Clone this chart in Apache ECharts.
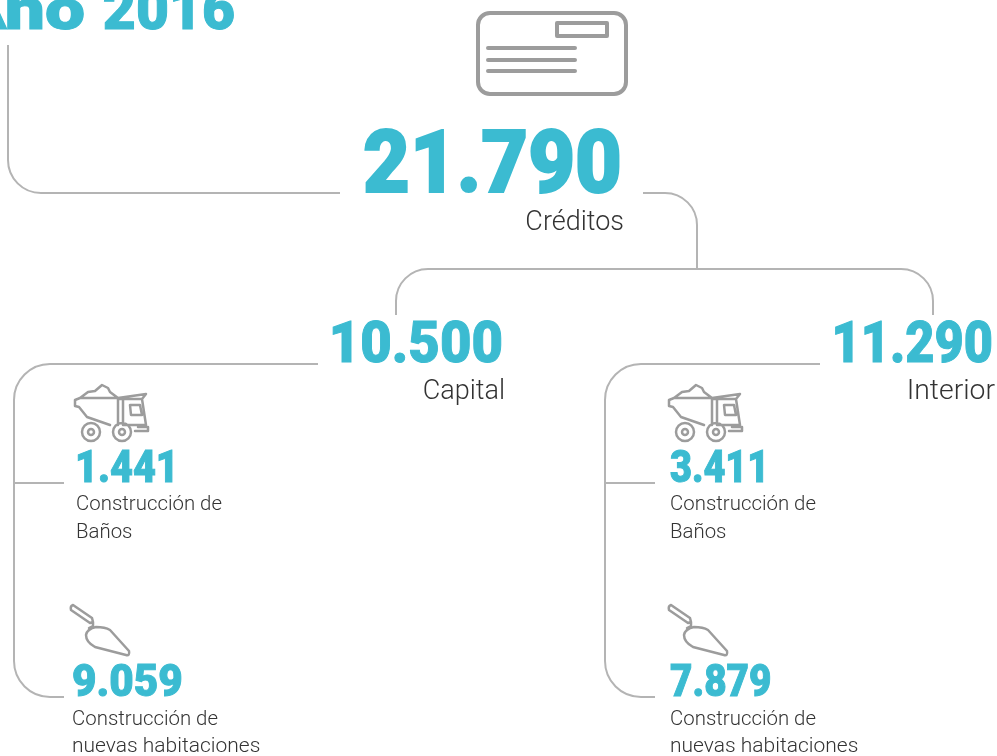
<!DOCTYPE html>
<html>
<head>
<meta charset="utf-8">
<style>html,body{margin:0;padding:0;background:#fff}#chart{width:997px;height:756px}</style>
<script src="https://cdn.jsdelivr.net/npm/echarts@6/dist/echarts.min.js"></script>
</head>
<body>
<div id="chart"></div>
<script>
const titleWord = "Año";
const titleYear = "2016";
const totalValue = "21.790";
const totalLabel = "Créditos";
const regionNames = ["Capital", "Interior"];
const regionValues = ["10.500", "11.290"];
const banosValues = ["1.441", "3.411"];
const habitacionesValues = ["9.059", "7.879"];
const banosLabel = ["Construcción de", "Baños"];
const habitacionesLabel = ["Construcción de", "nuevas habitaciones"];

const blue = "#3bbbd1";
const grey = "#b4b4b4";
const iconGrey = "#9c9c9c";
const bold = "900 {s}px Roboto";
const light = "300 {s}px Roboto";

const chart = echarts.init(document.getElementById("chart"));

function num(text, x, base, size, align, sx, sw) {
	return {
		type: "text", x: x, y: base, scaleX: sx, silent: true,
		style: { text: text, x: 0, y: 0, font: bold.replace("{s}", size), fill: blue, stroke: blue, lineWidth: sw, textAlign: align, textVerticalAlign: "bottom" }
	};
}
function lab(text, x, base, size, align, sx) {
	return {
		type: "text", x: x, y: base, scaleX: sx, silent: true,
		style: { text: text, x: 0, y: 0, font: light.replace("{s}", size), fill: "#333", textAlign: align, textVerticalAlign: "bottom" }
	};
}
function line(d) {
	return { type: "path", silent: true, shape: { pathData: d }, style: { fill: null, stroke: grey, lineWidth: 2 } };
}
function icon(d, dx, dy, w) {
	return { type: "path", silent: true, x: dx, y: dy, shape: { pathData: d }, style: { fill: null, stroke: iconGrey, lineWidth: w, lineJoin: "round", lineCap: "round" } };
}

const truck = "M75 400V406L79 407L87 417L110 425M118 399V425M123 399V425M75 400L80 398H118L146 394L142 399H119" +
	"M80 398L88 392L95 391L102 385L108 388L110 392L118 398" +
	"M142 399L146 425H123M130 405H140L142 415H131Z" +
	"M138 427H148V431H135" +
	"M100 432A9 9 0 1 1 82 432A9 9 0 1 1 100 432M94 432A3 3 0 1 1 88 432A3 3 0 1 1 94 432" +
	"M131 432A9 9 0 1 1 113 432A9 9 0 1 1 131 432M125 432A3 3 0 1 1 119 432A3 3 0 1 1 125 432";
const trowel = "M73 605L92 618L93 622L90 623L71 610Q70 606 73 605Z" +
	"M93 622V626L89 628M96 627Q105 627 110 630L129 651Q130 656 126 655L95 647Q86 642 86 635Q87 629 96 627Z";

const card = "M490 13H614A12 12 0 0 1 626 25V82A12 12 0 0 1 614 94H490A12 12 0 0 1 478 82V25A12 12 0 0 1 490 13Z" +
	"M557 23H607V36H557Z M488 48H575 M488 60H575 M488 71H575";

const elements = [
	line("M8 45V160A33 33 0 0 0 41 193H340"),
	line("M643 193H665A32 32 0 0 1 697 225V268"),
	line("M396 315V301A32 32 0 0 1 428 269H901A32 32 0 0 1 933 301V315"),
	line("M318 364H50A36 36 0 0 0 14 400V661A36 36 0 0 0 50 697H64M14 483H64"),
	line("M820 364H641A36 36 0 0 0 605 400V661A36 36 0 0 0 641 697H655M605 483H655"),
	icon(card, 0, 0, 4),
	num(titleWord, 85, 43, 57, "right", 1.25, 1),
	num(titleYear, 235, 43, 57, "right", 1, 1),
	num(totalValue, 622, 214, 87, "right", 0.93, 2),
	lab(totalLabel, 624, 237, 27, "right", 1),
	num(regionValues[0], 503, 376, 57, "right", 0.955, 1),
	lab(regionNames[0], 505, 406, 27, "right", 1),
	num(regionValues[1], 993, 376, 57, "right", 0.885, 1),
	lab(regionNames[1], 995, 406, 27, "right", 1.05)
];

const colX = [[75, 72], [670, 670]];
const iconDx = [0, 594];
const trowelDx = [0, 598];
const banosScale = [0.9, 0.86];
const habScale = [0.96, 0.88];
regionNames.forEach(function (n, i) {
	elements.push(icon(truck, iconDx[i], 0, 2.5));
	elements.push(icon(trowel, trowelDx[i], 0, 2.5));
	elements.push(num(banosValues[i], colX[i][0], 493, 44, "left", banosScale[i], 1));
	elements.push(num(habitacionesValues[i], colX[i][1], 707, 44, "left", habScale[i], 1));
	elements.push(lab(banosLabel[0], colX[i][0] + (i ? 0 : 1), 515, 20, "left", 1.02));
	elements.push(lab(banosLabel[1], colX[i][0] + (i ? 0 : 1), 543, 20, "left", 1.02));
	elements.push(lab(habitacionesLabel[0], colX[i][1], 730, 20, "left", 1.02));
	elements.push(lab(habitacionesLabel[1], colX[i][1], 757, 20, "left", 1.05));
});

chart.setOption({
	animation: false,
	series: [{
		type: "custom",
		coordinateSystem: "none",
		silent: true,
		data: [0],
		renderItem: function () {
			return { type: "group", children: elements };
		}
	}]
});
window.onresize = chart.resize;
</script>
</body>
</html>
